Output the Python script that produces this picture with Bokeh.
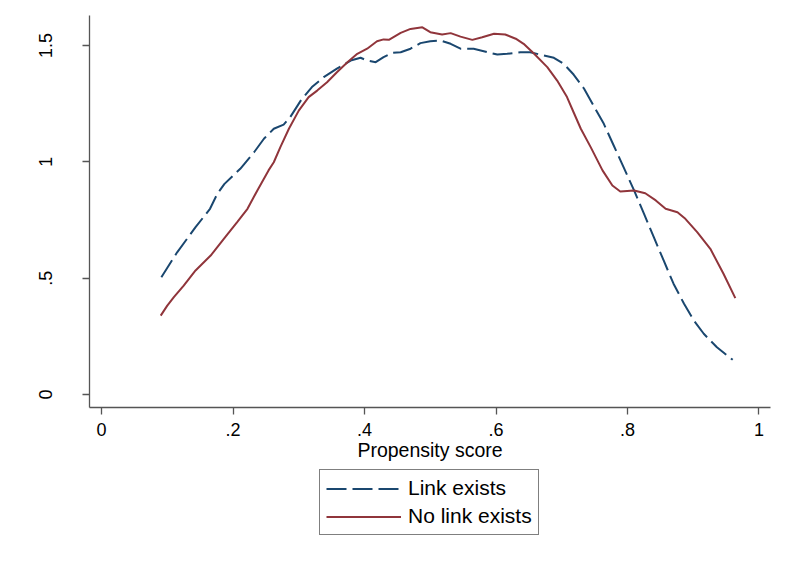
import numpy as np
from bokeh.plotting import figure
from bokeh.layouts import column
from bokeh.models import Legend, LegendItem, FixedTicker, Range1d
from bokeh.embed import file_html
from bokeh.resources import INLINE

# Kernel density, "Link exists"
link_x = [0.091, 0.115, 0.143, 0.165, 0.176, 0.187, 0.211, 0.232, 0.247, 0.262,
          0.277, 0.287, 0.303, 0.320, 0.338, 0.358, 0.379, 0.394, 0.404, 0.417,
          0.429, 0.442, 0.455, 0.470, 0.485, 0.500, 0.516, 0.531, 0.546, 0.566,
          0.587, 0.602, 0.617, 0.637, 0.652, 0.668, 0.688, 0.703, 0.718, 0.734,
          0.749, 0.764, 0.779, 0.794, 0.810, 0.825, 0.840, 0.855, 0.870, 0.886,
          0.901, 0.916, 0.936, 0.960]
link_y = [0.504, 0.611, 0.719, 0.798, 0.862, 0.905, 0.970, 1.041, 1.099, 1.142,
          1.160, 1.192, 1.263, 1.321, 1.364, 1.400, 1.435, 1.447, 1.435, 1.428,
          1.450, 1.468, 1.471, 1.486, 1.510, 1.518, 1.521, 1.507, 1.486, 1.486,
          1.471, 1.461, 1.464, 1.471, 1.471, 1.460, 1.447, 1.421, 1.375, 1.314,
          1.238, 1.163, 1.070, 0.977, 0.877, 0.777, 0.676, 0.576, 0.476, 0.390,
          0.318, 0.261, 0.203, 0.149]

# Kernel density, "No link exists"
nolink_x = [0.090, 0.100, 0.110, 0.125, 0.143, 0.166, 0.186, 0.206, 0.222, 0.237,
            0.254, 0.262, 0.272, 0.285, 0.300, 0.315, 0.328, 0.343, 0.358, 0.374,
            0.389, 0.404, 0.419, 0.429, 0.437, 0.455, 0.470, 0.488, 0.500, 0.518,
            0.531, 0.546, 0.564, 0.579, 0.597, 0.614, 0.630, 0.642, 0.658, 0.678,
            0.693, 0.708, 0.718, 0.729, 0.744, 0.762, 0.777, 0.789, 0.810, 0.827,
            0.843, 0.858, 0.876, 0.888, 0.906, 0.926, 0.946, 0.964]
nolink_y = [0.339, 0.382, 0.418, 0.468, 0.533, 0.597, 0.669, 0.740, 0.798, 0.877,
            0.963, 0.998, 1.063, 1.142, 1.220, 1.278, 1.306, 1.342, 1.385, 1.428,
            1.464, 1.486, 1.518, 1.526, 1.524, 1.554, 1.571, 1.578, 1.557, 1.547,
            1.553, 1.538, 1.524, 1.535, 1.550, 1.547, 1.529, 1.507, 1.464, 1.407,
            1.349, 1.278, 1.213, 1.142, 1.063, 0.963, 0.898, 0.872, 0.877, 0.865,
            0.834, 0.798, 0.783, 0.755, 0.698, 0.626, 0.519, 0.414]

x_ticks = [0, 0.2, 0.4, 0.6, 0.8, 1.0]
x_tick_labels = ["0", ".2", ".4", ".6", ".8", "1"]
y_ticks = [0, 0.5, 1.0, 1.5]
y_tick_labels = ["0", ".5", "1", "1.5"]

x_title = "Propensity score"
series_names = ["Link exists", "No link exists"]
series_colors = ["#1a476f", "#90353b"]
series_dashes = ["20 6", "solid"]

FONT = "Liberation Sans"
AXIS_COLOR = "#555555"

p = figure(frame_width=681, frame_height=392, output_backend="svg",
           toolbar_location=None,
           x_range=Range1d(-0.0183, 1.0175), y_range=Range1d(-0.0559, 1.6287),
           min_border_left=89, min_border_right=25, min_border_top=15,
           min_border_bottom=59)

p.background_fill_color = "white"
p.border_fill_color = "white"
p.outline_line_color = None
p.xgrid.grid_line_color = None
p.ygrid.grid_line_color = None

p.line(link_x, link_y, line_color=series_colors[0], line_width=2,
       line_dash=series_dashes[0])
p.line(nolink_x, nolink_y, line_color=series_colors[1], line_width=2,
       line_dash=series_dashes[1])

for ax in (p.xaxis[0], p.yaxis[0]):
    ax.axis_line_color = AXIS_COLOR
    ax.axis_line_width = 1.3
    ax.major_tick_line_color = AXIS_COLOR
    ax.major_tick_line_width = 1.3
    ax.major_tick_in = 0
    ax.major_tick_out = 7
    ax.minor_tick_line_color = None
    ax.major_label_text_font = FONT
    ax.major_label_text_font_size = "18px"
    ax.major_label_text_color = "black"

p.xaxis.ticker = FixedTicker(ticks=x_ticks)
p.xaxis.major_label_overrides = dict(zip(x_ticks, x_tick_labels))
p.xaxis.major_label_standoff = 8
p.xaxis.axis_label = x_title
p.xaxis.axis_label_text_font = FONT
p.xaxis.axis_label_text_font_size = "19.5px"
p.xaxis.axis_label_text_font_style = "normal"
p.xaxis.axis_label_text_color = "black"
p.xaxis.axis_label_standoff = 0

p.yaxis.ticker = FixedTicker(ticks=y_ticks)
p.yaxis.major_label_overrides = dict(zip(y_ticks, y_tick_labels))
p.yaxis.major_label_orientation = "parallel"
p.yaxis.major_label_standoff = 30

# Legend strip below the chart (its frame is aligned with the chart's frame)
leg = figure(width=795, height=95, output_backend="svg", toolbar_location=None,
             x_range=Range1d(0, 1), y_range=Range1d(0, 1),
             x_axis_location=None, y_axis_location=None,
             min_border=0)
leg.outline_line_color = None
leg.xgrid.grid_line_color = None
leg.ygrid.grid_line_color = None
leg.background_fill_color = "white"
leg.border_fill_color = "white"

items = []
for name, col, dash in zip(series_names, series_colors, series_dashes):
    # key-only renderer: a single undefined point, nothing drawn in the strip
    r = leg.line(np.array([np.nan]), np.array([np.nan]), line_color=col,
                 line_width=2, line_dash=dash)
    items.append(LegendItem(label=name, renderers=[r]))

legend = Legend(items=items, location=(230, 26), orientation="vertical",
                glyph_width=75, glyph_height=23, label_height=23,
                spacing=4, padding=6, label_standoff=7, margin=0,
                border_line_color="black", border_line_width=1,
                label_text_font=FONT, label_text_font_size="21px",
                label_text_color="black", background_fill_color="white")
leg.add_layout(legend, "center")

layout = column(p, leg, spacing=0)

open("out.html", "w").write(file_html(layout, INLINE))
